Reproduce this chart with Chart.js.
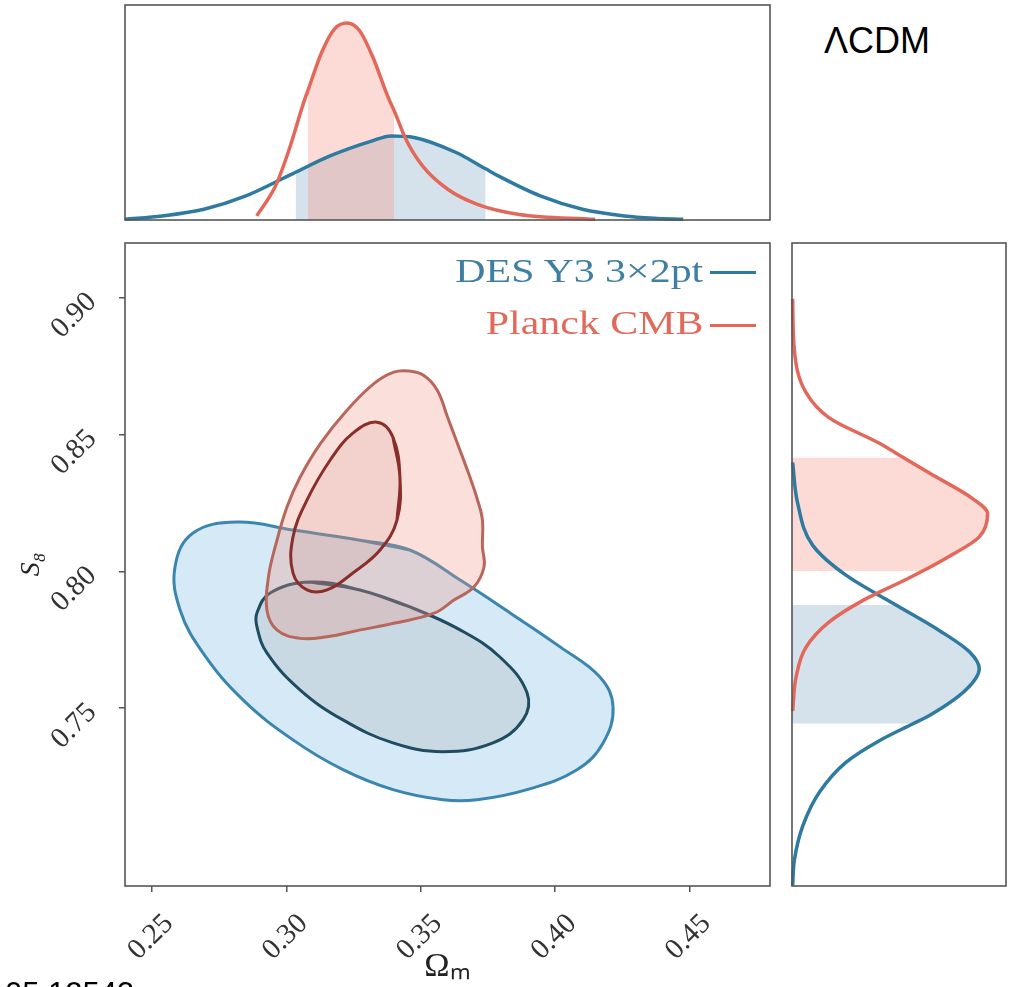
<!DOCTYPE html>
<html lang="en">
<head>
  <meta charset="UTF-8" />
  <title>DES Y3 3x2pt vs Planck CMB (LCDM)</title>
  <script src="https://cdn.jsdelivr.net/npm/chart.js"></script>
  <style>
    html, body { margin: 0; padding: 0; background: #fff; width: 1011px; height: 987px; overflow: hidden; }
    canvas { position: absolute; }
    .note { position: absolute; font-family: 'Liberation Sans', Arial, sans-serif; color: #000; line-height: 1; white-space: nowrap; }
    .legend { position: absolute; right: 308px; font-family: 'Liberation Serif', serif; font-size: 33px; line-height: 1; white-space: nowrap; transform: scaleX(1.27); transform-origin: right center; }
    .mark { position: absolute; left: 710px; width: 46px; height: 3px; }
  </style>
</head>
<body>
  <canvas id="topPanel" width="651" height="221" style="left:122px; top:2px;"></canvas>
  <canvas id="mainPanel" width="790" height="754" style="left:0px; top:233px;"></canvas>
  <canvas id="rightPanel" width="220" height="649" style="left:789px; top:240px;"></canvas>

  <div class="note" style="left:824px; top:23px; font-size:36px;">ΛCDM</div>
  <div class="note" style="left:5px; top:978px; font-size:31px;">05.12543</div>

  <div class="legend" style="top:255px; color:#3f7fa3;">DES Y3 3×2pt</div>
  <div class="mark" style="top:271px; background:#2e7aa0;"></div>
  <div class="legend" style="top:307px; color:#e06a5b;">Planck CMB</div>
  <div class="mark" style="top:324px; background:#e3685a;"></div>

  <script>
    // shared axis ranges and ticks
    const omRange = [0.24, 0.48];
    const s8Range = [0.685, 0.92];
    const omTicks = [0.25, 0.30, 0.35, 0.40, 0.45];
    const s8Ticks = [0.75, 0.80, 0.85, 0.90];

    // Omega_m marginals (top panel), heights relative to panel height
    const desOmX = [0.2400, 0.2538, 0.2694, 0.2850, 0.3007, 0.3035, 0.3163, 0.3320, 0.3390, 0.3476, 0.3632, 0.3742, 0.3789, 0.3945, 0.4102, 0.4258, 0.4368, 0.4477];
    const desOmP = [0.003, 0.019, 0.050, 0.112, 0.205, 0.222, 0.298, 0.368, 0.391, 0.384, 0.314, 0.238, 0.205, 0.112, 0.050, 0.019, 0.008, 0.003];
    const planckOmX = [0.2890, 0.2960, 0.3007, 0.3069, 0.3080, 0.3132, 0.3179, 0.3226, 0.3273, 0.3320, 0.3382, 0.3401, 0.3445, 0.3507, 0.3601, 0.3711, 0.3867, 0.4149];
    const planckOmP = [0.019, 0.158, 0.314, 0.562, 0.600, 0.780, 0.888, 0.916, 0.880, 0.764, 0.562, 0.510, 0.376, 0.252, 0.143, 0.073, 0.026, 0.003];
    const desOmBand = [0.3035, 0.3742];
    const planckOmBand = [0.3080, 0.3401];

    // S8 marginals (right panel), widths relative to panel width
    const desS8 = [0.6851, 0.6944, 0.7069, 0.7193, 0.7302, 0.7381, 0.7443, 0.7473, 0.7567, 0.7644, 0.7706, 0.7784, 0.7877, 0.7986, 0.8095, 0.8250, 0.8398];
    const desS8P = [0.003, 0.011, 0.050, 0.128, 0.252, 0.408, 0.565, 0.642, 0.813, 0.875, 0.829, 0.688, 0.486, 0.252, 0.097, 0.026, 0.003];
    const planckS8 = [0.7489, 0.7613, 0.7722, 0.7815, 0.7893, 0.7970, 0.8001, 0.8048, 0.8126, 0.8211, 0.8266, 0.8359, 0.8416, 0.8468, 0.8561, 0.8654, 0.8809, 0.8996];
    const planckS8P = [0.003, 0.019, 0.065, 0.174, 0.330, 0.533, 0.610, 0.720, 0.875, 0.914, 0.844, 0.642, 0.520, 0.408, 0.174, 0.065, 0.011, 0.003];
    const desS8Band = [0.7443, 0.7877];
    const planckS8Band = [0.8001, 0.8416];

    // 2D contours, [Omega_m, S8]
    const desOuter = [[0.3274, 0.8114], [0.3460, 0.8078], [0.3647, 0.7968], [0.3833, 0.7848], [0.4019, 0.7724], [0.4167, 0.7614], [0.4216, 0.7505], [0.4179, 0.7373], [0.4082, 0.7275], [0.3896, 0.7202], [0.3710, 0.7165], [0.3583, 0.7165], [0.3397, 0.7202], [0.3211, 0.7275], [0.3025, 0.7384], [0.2839, 0.7530], [0.2690, 0.7702], [0.2605, 0.7859], [0.2586, 0.8016], [0.2653, 0.8140], [0.2817, 0.8180], [0.3025, 0.8151]];
    const desInner = [[0.3274, 0.7932], [0.3460, 0.7870], [0.3647, 0.7786], [0.3795, 0.7687], [0.3896, 0.7556], [0.3881, 0.7457], [0.3769, 0.7373], [0.3583, 0.7341], [0.3397, 0.7373], [0.3211, 0.7457], [0.3051, 0.7567], [0.2928, 0.7702], [0.2891, 0.7797], [0.2891, 0.7848], [0.2940, 0.7921], [0.3088, 0.7961]];
    const planckOuter = [[0.3637, 0.8467], [0.3674, 0.8370], [0.3712, 0.8260], [0.3730, 0.8187], [0.3730, 0.8090], [0.3736, 0.8017], [0.3699, 0.7944], [0.3624, 0.7895], [0.3550, 0.7847], [0.3400, 0.7810], [0.3276, 0.7786], [0.3152, 0.7761], [0.3052, 0.7755], [0.2965, 0.7786], [0.2928, 0.7859], [0.2934, 0.7980], [0.2959, 0.8090], [0.3003, 0.8236], [0.3052, 0.8345], [0.3127, 0.8467], [0.3226, 0.8589], [0.3326, 0.8686], [0.3400, 0.8728], [0.3456, 0.8732], [0.3512, 0.8716], [0.3562, 0.8662], [0.3600, 0.8564]];
    const planckInner = [[0.3423, 0.8344], [0.3412, 0.8187], [0.3349, 0.8078], [0.3248, 0.7994], [0.3152, 0.7932], [0.3077, 0.7932], [0.3025, 0.7994], [0.3025, 0.8125], [0.3077, 0.8260], [0.3163, 0.8406], [0.3248, 0.8505], [0.3338, 0.8545], [0.3397, 0.8490]];

    const desBlue = '#2e7aa0';
    const planckRed = '#e3685a';

    const frame = {
      id: 'frame',
      afterDatasetsDraw(chart) {
        const { ctx, chartArea: a } = chart;
        ctx.save();
        ctx.strokeStyle = '#555';
        ctx.lineWidth = 1.6;
        ctx.strokeRect(a.left, a.top, a.right - a.left, a.bottom - a.top);
        ctx.restore();
      }
    };

    const curve = (xs, ys) => xs.map((x, i) => ({ x, y: ys[i] }));
    const curveY = (ys, xs) => ys.map((y, i) => ({ x: xs[i], y }));
    const inBand = (pts, key, [lo, hi]) => pts.filter(p => p[key] >= lo && p[key] <= hi);

    // closed contour: wrap one point on each end so the spline stays smooth at the seam
    function loop(pts) {
      const n = pts.length;
      return [pts[n - 1], ...pts, pts[0], pts[1]].map(([x, y]) => ({ x, y }));
    }

    function line1d(data, color) {
      return { data, showLine: true, borderColor: color, borderWidth: 3.5, fill: false, cubicInterpolationMode: 'monotone', clip: 6 };
    }
    function band1d(data, color) {
      return { data, showLine: true, borderColor: 'transparent', borderWidth: 0, backgroundColor: color, fill: 'origin', cubicInterpolationMode: 'monotone', clip: 6 };
    }
    function contour(pts, line, fillColor) {
      return { data: loop(pts), showLine: true, borderColor: line, borderWidth: 3, backgroundColor: fillColor, fill: 'shape', tension: 0.4 };
    }

    const baseOptions = {
      responsive: false,
      animation: false,
      elements: { point: { radius: 0, hoverRadius: 0 } },
      plugins: { legend: { display: false }, tooltip: { enabled: false } }
    };

    // top: Omega_m marginal
    new Chart(document.getElementById('topPanel'), {
      type: 'scatter',
      data: {
        datasets: [
          line1d(curve(planckOmX, planckOmP), planckRed),
          line1d(curve(desOmX, desOmP), desBlue),
          band1d(inBand(curve(planckOmX, planckOmP), 'x', planckOmBand), 'rgba(245,150,135,0.35)'),
          band1d(inBand(curve(desOmX, desOmP), 'x', desOmBand), 'rgba(120,160,190,0.3)')
        ]
      },
      options: {
        ...baseOptions,
        layout: { padding: 3 },
        scales: {
          x: { type: 'linear', display: false, min: omRange[0], max: omRange[1] },
          y: { type: 'linear', display: false, min: 0, max: 1 }
        }
      },
      plugins: [frame]
    });

    // right: S8 marginal, drawn sideways
    new Chart(document.getElementById('rightPanel'), {
      type: 'line',
      data: {
        datasets: [
          line1d(curveY(planckS8, planckS8P), planckRed),
          line1d(curveY(desS8, desS8P), desBlue),
          band1d(inBand(curveY(planckS8, planckS8P), 'y', planckS8Band), 'rgba(245,150,135,0.35)'),
          band1d(inBand(curveY(desS8, desS8P), 'y', desS8Band), 'rgba(120,160,190,0.3)')
        ]
      },
      options: {
        ...baseOptions,
        indexAxis: 'y',
        layout: { padding: 3 },
        scales: {
          x: { type: 'linear', display: false, min: 0, max: 1 },
          y: { type: 'linear', display: false, min: s8Range[0], max: s8Range[1] }
        }
      },
      plugins: [frame]
    });

    // main: 2D contours
    const tickFont = { family: 'Liberation Serif', size: 29 };
    new Chart(document.getElementById('mainPanel'), {
      type: 'scatter',
      data: {
        datasets: [
          contour(planckInner, '#8a2e2b', 'rgba(190,110,100,0.12)'),
          contour(planckOuter, '#b8675c', 'rgba(240,150,135,0.3)'),
          contour(desInner, '#1f4c62', 'rgba(150,150,160,0.2)'),
          contour(desOuter, '#3a86ae', '#d5eaf6')
        ]
      },
      options: {
        ...baseOptions,
        layout: { padding: { top: 10, right: 20, left: 0, bottom: 0 } },
        scales: {
          x: {
            type: 'linear', min: omRange[0], max: omRange[1],
            afterBuildTicks: ax => { ax.ticks = omTicks.map(value => ({ value })); },
            afterFit: ax => { ax.height = 101; ax.paddingLeft = 0; ax.paddingRight = 0; },
            grid: { drawOnChartArea: false, drawTicks: true, tickLength: 6, color: '#555', lineWidth: 1.5 },
            border: { display: false },
            ticks: { autoSkip: false, minRotation: 45, maxRotation: 45, padding: 15, labelOffset: 17, color: '#333', font: tickFont, callback: v => v.toFixed(2) },
            title: { display: true, text: 'Ωₘ', color: '#222', font: { family: 'Liberation Serif', size: 34 }, padding: { top: 0, bottom: 0 } }
          },
          y: {
            type: 'linear', min: s8Range[0], max: s8Range[1],
            afterBuildTicks: ax => { ax.ticks = s8Ticks.map(value => ({ value })); },
            afterFit: ax => { ax.width = 125; ax.paddingTop = 0; ax.paddingBottom = 0; },
            grid: { drawOnChartArea: false, drawTicks: true, tickLength: 6, color: '#555', lineWidth: 1.5 },
            border: { display: false },
            ticks: { autoSkip: false, minRotation: 45, maxRotation: 45, padding: 27, labelOffset: 0, color: '#333', font: tickFont, callback: v => v.toFixed(2) },
            title: { display: true, text: 'S₈', color: '#222', font: { family: 'Liberation Serif', size: 28, style: 'italic' }, padding: { top: 15, bottom: 0 } }
          }
        }
      },
      plugins: [frame]
    });
  </script>
</body>
</html>
